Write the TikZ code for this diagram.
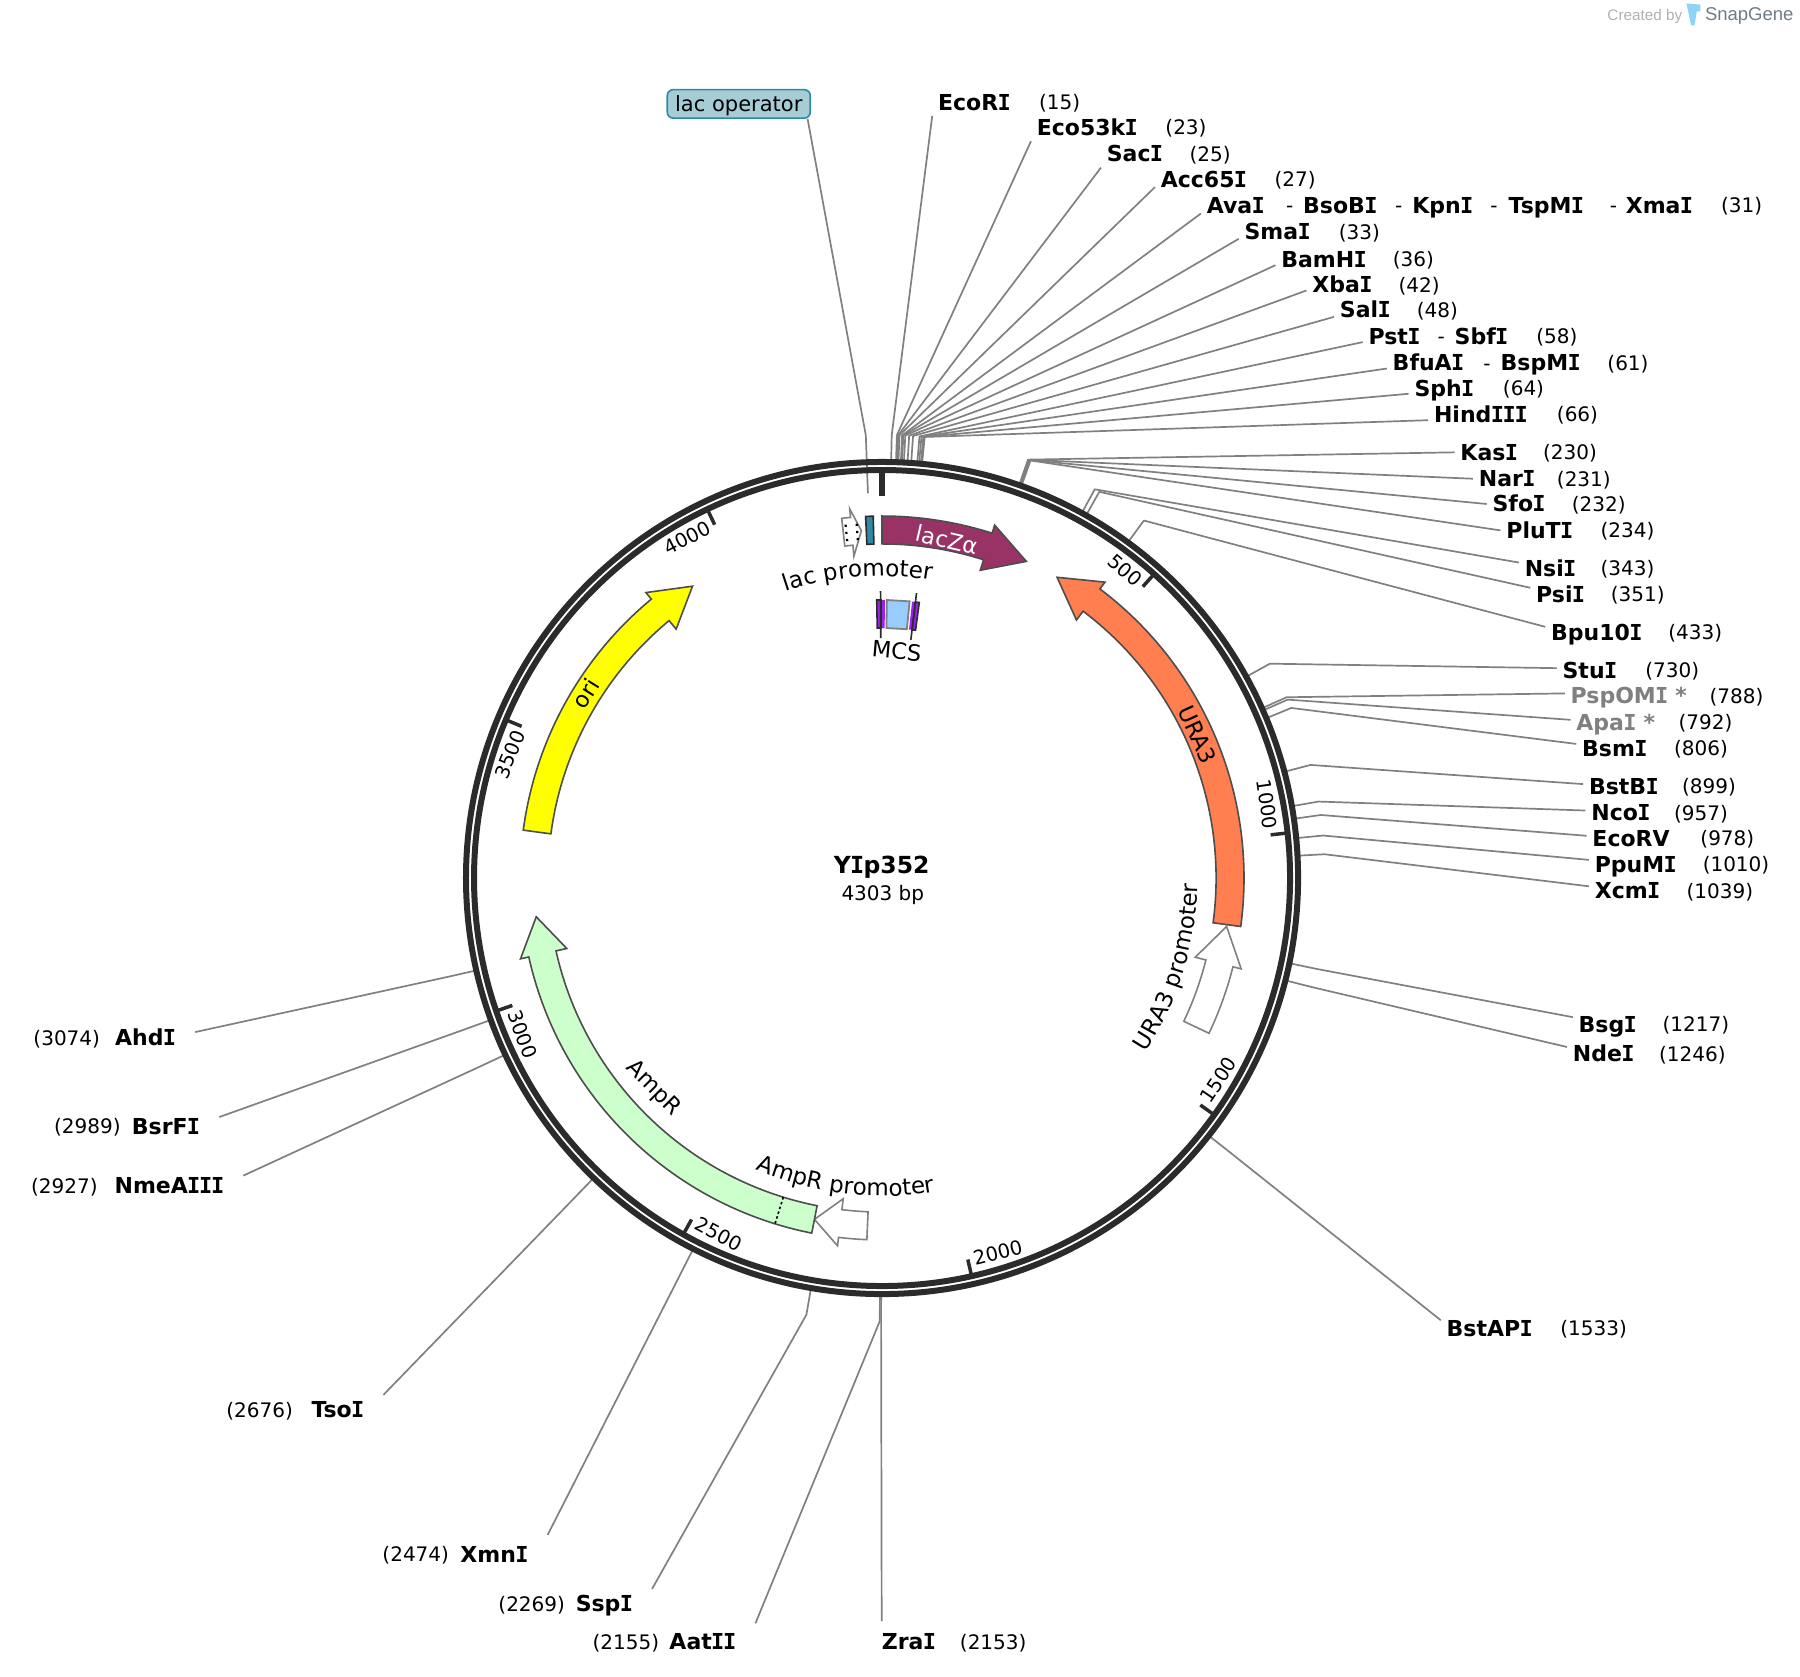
\documentclass[tikz,border=0pt]{standalone}
\usepackage{fontspec}
\usepackage{xcolor}
\usepackage{tikz}
\usetikzlibrary{calc,decorations.text}
\setmainfont{DejaVu Sans}
\newfontfamily\markfont{Liberation Sans}
\newfontfamily\seriffont{DejaVu Sans Mono}
\definecolor{ringdark}{HTML}{2B2B2B}
\definecolor{linegray}{HTML}{808080}
\definecolor{edgedark}{HTML}{4D4D4D}
\definecolor{lacz}{HTML}{993366}
\definecolor{ura}{HTML}{FF7F50}
\definecolor{amp}{HTML}{CCFFCC}
\definecolor{oriyellow}{HTML}{FFFF00}
\definecolor{operteal}{HTML}{2E8AA4}
\definecolor{operfill}{HTML}{A6CDD6}
\definecolor{mcsblue}{HTML}{99CCFF}
\definecolor{mcspurple}{HTML}{9922EE}
\definecolor{markgray}{HTML}{B0B0B0}
\definecolor{brandgray}{HTML}{6E7B87}
\definecolor{brandblue}{HTML}{8FD3F8}
\tikzset{
  sitename/.style={anchor=west,inner xsep=5.7bp,inner ysep=2bp,text height=16bp,text depth=0pt,font=\bfseries\fontsize{22bp}{24bp}\selectfont},
  sitegray/.style={sitename,text=linegray},
  siteleft/.style={sitename,anchor=east,inner xsep=19.5bp},
  sitenum/.style={anchor=west,inner sep=0pt,text height=14.6bp,text depth=0pt,font=\fontsize{20bp}{24bp}\selectfont},
  sitelink/.style={draw=linegray,line width=1.7bp,line join=round},
  gene/.style={draw=edgedark,line width=1.6bp,line join=miter},
  promo/.style={draw=linegray,fill=white,line width=1.6bp},
  ticklabel/.style={inner sep=0pt,font=\fontsize{19.5bp}{22bp}\selectfont},
  featlabel/.style={inner sep=0pt,font=\fontsize{22.5bp}{24bp}\selectfont},
}
% capital I with serifs, and a name set with it
\newcommand{\capI}{{\kern-.03em\seriffont\bfseries I\kern-.03em}}
\def\lblscan#1{\ifx#1\relax\else\ifx#1I\capI\else#1\fi\expandafter\lblscan\fi}
% arrow on the map: style, start, head base, tip (degrees clockwise from top)
\newcommand{\genearrow}[4]{%
  \draw[#1] (#2-90:315.3) arc[start angle=#2-90,end angle=#3-90,radius=315.3]
    -- (#3-90:322.7) -- (#4-90:303.1) -- (#3-90:281.4) -- (#3-90:291)
    arc[start angle=#3-90,end angle=#2-90,radius=291] -- cycle;}
% box on the map: style, from, to, inner radius, outer radius
\newcommand{\arcbox}[5]{%
  \draw[#1] (#2-90:#4) -- (#2-90:#5) -- (#3-90:#5) -- (#3-90:#4) -- cycle;}
% line from the ring to a label: position, node, anchor, offset
\newcommand{\siteline}[4]{%
  \coordinate (#2-a) at ($(c)+(#1/4303*360-90:364)$);
  \coordinate (#2-b) at ($(c)+(#1/4303*360-90:386)$);
  \draw[sitelink] (#2-a) -- (#2-b) -- ($(#2.#3)+(0,#4)$);}
% text bent along the ring: from, to, radius, text
\newcommand{\bentname}[4]{%
  \path[decorate,decoration={text along path,text align=center,text={|\fontsize{23bp}{24bp}\selectfont|#4}}]
    (#1-90:#3) arc[start angle=#1-90,end angle=#2-90,radius=#3];}

\begin{document}
\begin{tikzpicture}[x=1.148bp,y=-1.148bp]
  \useasboundingbox (0,0) rectangle (1567.9,1460);
  \coordinate (c) at (768.3,764.8);

  % sites on the right
  \foreach \nm/\x/\y/\nx/\bp/\dy in {
      EcoRI/817/89/905/15/12, Eco53kI/903/111/1015/23/12, SacI/964/134/1036/25/12,
      Acc65I/1011/156/1110/27/7, AvaI/1051/179/1499/31/7, SmaI/1084/202/1166/33/6,
      BamHI/1116/226/1213/36/5, XbaI/1143/248/1218/42/5, SalI/1167/270/1234/48/6,
      PstI/1192/293/1338/58/5, BfuAI/1213/316/1400/61/5, SphI/1232/338/1309/64/5,
      HindIII/1249/361/1356/66/5, KasI/1272/394/1344/230/0, NarI/1288/417/1356/231/0,
      SfoI/1300/439/1369/232/0, PluTI/1312/462/1394/234/0, NsiI/1328/495/1394/343/-5,
      PsiI/1338/518/1403/351/-6, Bpu10I/1351/551/1453/433/-5, StuI/1361/584/1433/730/-2,
      BsmI/1378/652/1458/806/-4, BstBI/1384/685/1465/899/-2, NcoI/1386/708/1458/957/-2,
      EcoRV/1387/730/1481/978/-2, PpuMI/1389/753/1483/1010/-4, XcmI/1389/776/1469/1039/-4,
      BsgI/1375/892/1448/1217/-6, NdeI/1370/918/1445/1246/-6, BstAPI/1260/1157/1359/1533/-7}{
    \node[sitename] (\nm) at (\x-5,\y) {\expandafter\lblscan\nm\relax};
    \node[sitenum] (\nm-num) at (\nx,\y) {(\bp)};
    \siteline{\bp}{\nm}{west}{\dy}
  }
  \node[sitegray] (PspOMI) at (1363,606) {PspOM\capI\ *};
  \node[sitenum] (PspOMI-num) at (1489,606) {(788)};
  \siteline{788}{PspOMI}{west}{-2}
  \node[sitegray] (ApaI) at (1368,629) {Apa\capI\ *};
  \node[sitenum] (ApaI-num) at (1462,629) {(792)};
  \siteline{792}{ApaI}{west}{-2}
  \foreach \nm/\x/\y in {BsoBI/1135/179,KpnI/1230/179,TspMI/1314/179,XmaI/1416/179,SbfI/1267/293,BspMI/1307/316}
    \node[sitename] (\nm) at (\x-5,\y) {\expandafter\lblscan\nm\relax};
  \foreach \k/\x/\y in {a/1120/179,b/1215/179,c/1298/179,d/1402/179,e/1252/293,f/1292/316}
    \node[sitenum] (dash-\k) at (\x,\y) {-};

  % sites on the left
  \foreach \nm/\x/\y/\nx/\bp/\dy in {
      AatII/658/1430/516/2155/-16, SspI/568/1397/434/2269/-13, XmnI/477/1354/333/2474/-17,
      TsoI/334/1228/197/2676/-13, NmeAIII/212/1033/27/2927/-9, BsrFI/191/981/47/2989/-8,
      AhdI/170/904/29/3074/-5}{
    \node[siteleft] (\nm) at (\x,\y) {\expandafter\lblscan\nm\relax};
    \node[sitenum] (\nm-num) at (\nx,\y) {(\bp)};
    \siteline{\bp}{\nm}{east}{\dy}
  }
  \node[sitename,inner xsep=0pt] (ZraI) at (768,1430) {Zra\capI};
  \node[sitenum] (ZraI-num) at (836,1430) {(2153)};
  \siteline{2153}{ZraI}{west}{-18}

  % lac operator label
  \node[draw=operteal,fill=operfill,line width=1.6bp,rounded corners=6bp,minimum width=143bp,minimum height=28.5bp,
        inner sep=0pt,text height=16bp,text depth=0pt,font=\fontsize{21bp}{24bp}\selectfont] (lacop) at (643.5,90.5) {lac operator};
  \coordinate (lacop-b) at ($(c)+(-2.1-90:386)$);
  \coordinate (lacop-e) at ($(c)+(-2.1-90:335.4)$);
  \draw[sitelink] ($(lacop.south east)+(-3,0)$) -- (lacop-b) -- (lacop-e);

  % ring and ticks
  \draw[ringdark,line width=6bp] (c) circle (362.4);
  \draw[ringdark,line width=6bp] (c) circle (355.4);
  \begin{scope}[shift={(c)}]
    \draw[ringdark,line width=6bp] (-90:332.7) -- (-90:354);
    \foreach \t/\r/\o in {500/-41/3.5,1000/-82/4.5,1500/56/4.5,2000/14/4.5,2500/-28/4.5,3000/-70/4.5,3500/68/4.5,4000/27/4.5}{
      \draw[ringdark,line width=3.5bp] (\t/4303*360-90:340.6) -- (\t/4303*360-90:354);
      \node[ticklabel,rotate=\r] (tick-\t) at (\t/4303*360-90-\o:341.5) {\t};
    }

    % features
    \genearrow{promo}{182.4}{186.9}{191.2}
    \genearrow{promo}{115.4}{104.2}{98}
    \genearrow{gene,fill=lacz}{0}{17.7}{24.5}
    \genearrow{gene,fill=ura}{97.7}{37}{30.2}
    \genearrow{gene,fill=amp}{191.2}{257.4}{263.6}
    \genearrow{gene,fill=oriyellow}{277.6}{320.4}{327}
    \draw[black,line width=1.6bp,dash pattern=on 2.5bp off 2.5bp] (197.2-90:291) -- (197.2-90:315.3);

    % lac promoter and operator
    \genearrow{promo}{-6.4}{-5}{-3.4}
    \draw[black,line width=2.2bp,dash pattern=on 2.2bp off 5bp] (-5.9-90:295) -- (-5.9-90:313);
    \draw[black,line width=2.2bp,dash pattern=on 2.2bp off 5bp] (-4.1-90:295) -- (-4.1-90:313);
    \arcbox{draw=ringdark,fill=operteal,line width=1.6bp}{-2.6}{-1.4}{291}{315.3}

    % MCS
    \arcbox{draw=linegray,fill=mcsblue,line width=1.8bp}{1}{5.7}{217.8}{242.2}
    \arcbox{draw=none,fill=mcspurple}{-1.1}{0.6}{217.8}{242.2}
    \arcbox{draw=none,fill=mcspurple}{6.2}{7.7}{217.8}{242.2}
    \arcbox{draw=ringdark,line width=1.6bp}{-1.1}{-0.2}{217.8}{242.2}
    \arcbox{draw=ringdark,line width=1.6bp}{6.9}{7.7}{217.8}{242.2}
    \draw[ringdark,line width=1.6bp] (-0.3-90:209) -- (-0.3-90:250);
    \draw[ringdark,line width=1.6bp] (6.9-90:209) -- (6.9-90:250);

    % names bent along the ring
    \bentname{-44.6}{35.4}{263}{lac promoter}
    \bentname{147.3}{67.3}{275}{URA3 promoter}
    \bentname{231.9}{141.9}{277}{AmpR promoter}
  \end{scope}

  % feature names
  \node[featlabel,text=white,rotate=-13] (lacz-name) at (825,470) {lacZα};
  \node[featlabel,rotate=-5] (mcs-name) at (781,567) {MCS};
  \node[featlabel,rotate=-65.6] (ura-name) at (1043,640) {URA3};
  \node[featlabel,rotate=-45] (amp-name) at (569,948) {AmpR};
  \node[featlabel,rotate=58] (ori-name) at (510,604) {ori};

  % plasmid name
  \node[inner sep=0pt,font=\bfseries\fontsize{23.5bp}{28bp}\selectfont] (plasmid) at (768,755) {Y\capI p352};
  \node[inner sep=0pt,font=\fontsize{20bp}{24bp}\selectfont] (size) at (769,780) {4303 bp};

  % mark in the corner
  \node[inner sep=0pt,anchor=west,text=markgray,font=\markfont\fontsize{15.3bp}{18bp}\selectfont] (made) at (1400,14) {Created by};
  \node[inner sep=0pt,anchor=west,text=brandgray,font=\markfont\fontsize{18.5bp}{20bp}\selectfont] (brand) at (1485,14) {SnapGene};
  \fill[brandblue] (1469,3) -- (1481,4) -- (1481,10) -- (1478,10) -- (1476,22) -- (1473,22) -- cycle;
\end{tikzpicture}
\end{document}
